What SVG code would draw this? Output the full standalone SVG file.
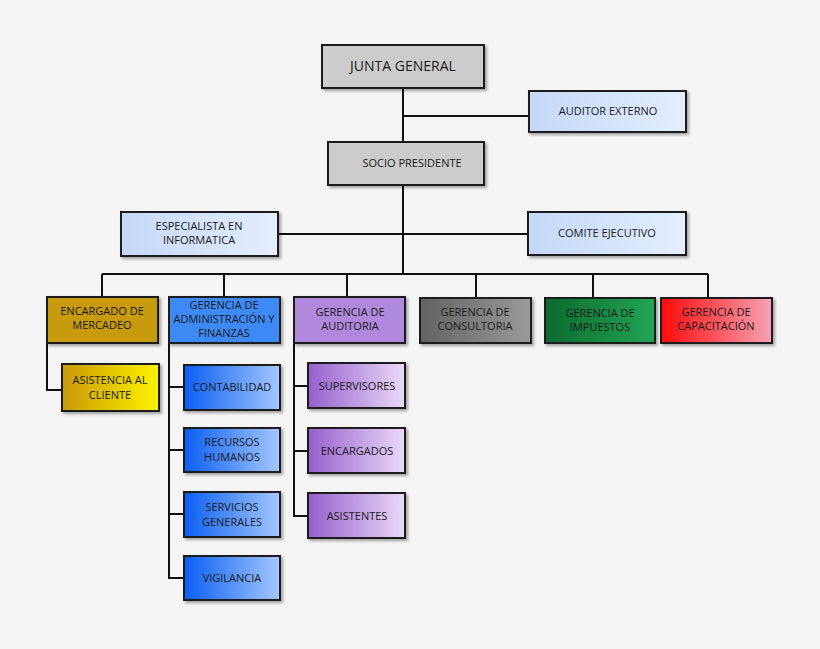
<svg xmlns="http://www.w3.org/2000/svg" width="820" height="649" viewBox="0 0 820 649">
<defs>
<filter id="sh" x="-10%" y="-10%" width="130%" height="140%"><feDropShadow dx="2" dy="2" stdDeviation="1.5" flood-color="#000" flood-opacity="0.35"/></filter>
<linearGradient id="gLb" x1="0" y1="0" x2="1" y2="0"><stop offset="0" stop-color="#c4d8f6"/><stop offset="1" stop-color="#e4eeff"/></linearGradient>
<linearGradient id="gGold" x1="0" y1="0" x2="1" y2="0"><stop offset="0" stop-color="#c89a08"/><stop offset="1" stop-color="#fff200"/></linearGradient>
<linearGradient id="gBlue" x1="0" y1="0" x2="1" y2="0"><stop offset="0" stop-color="#0a5ef2"/><stop offset="1" stop-color="#a4c8ff"/></linearGradient>
<linearGradient id="gPur" x1="0" y1="0" x2="1" y2="0"><stop offset="0" stop-color="#9560cc"/><stop offset="1" stop-color="#ead9f8"/></linearGradient>
<linearGradient id="gGray" x1="0" y1="0" x2="1" y2="0"><stop offset="0" stop-color="#626262"/><stop offset="1" stop-color="#9a9a9a"/></linearGradient>
<linearGradient id="gGreen" x1="0" y1="0" x2="1" y2="0"><stop offset="0" stop-color="#0b6a2e"/><stop offset="1" stop-color="#22a556"/></linearGradient>
<linearGradient id="gRed" x1="0" y1="0" x2="1" y2="0"><stop offset="0" stop-color="#ff0a0a"/><stop offset="1" stop-color="#f6a3b3"/></linearGradient>
</defs>
<style>
rect{stroke:#1a1a1a;stroke-width:2;filter:url(#sh)}
text{font-family:"Open Sans","DejaVu Sans",sans-serif;font-size:11px;fill:#1a1a1a;text-anchor:middle}
.c path{stroke:#111;stroke-width:2;fill:none}
</style>
<rect x="0" y="0" width="820" height="649" fill="#f5f5f5" style="stroke:none;filter:none"/>
<g class="c">
<path d="M403 88V273M403 116H529M278 234H528M102 274H708M102 274V297M224 274V297M347 274V297M476 274V297M593 274V297M708 274V297"/>
<path d="M47 343V390H62M169 343V578H184M169 387H184M169 450H184M169 514H184M294 343V516H308M294 386H308M294 451H308"/>
</g>
<g id="junta"><rect x="322" y="45" width="162" height="43" fill="#cccccc"/><text x="403" y="71" style="font-size:14px">JUNTA GENERAL</text></g>
<g id="auditor"><rect x="529" y="91" width="157" height="41" fill="url(#gLb)"/><text x="608" y="115">AUDITOR EXTERNO</text></g>
<g id="socio"><rect x="328" y="142" width="156" height="43" fill="#cccccc"/><text x="412" y="167">SOCIO PRESIDENTE</text></g>
<g id="especialista"><rect x="121" y="212" width="157" height="44" fill="url(#gLb)"/><text x="199" y="230">ESPECIALISTA EN</text><text x="199" y="244">INFORMATICA</text></g>
<g id="comite"><rect x="528" y="212" width="158" height="43" fill="url(#gLb)"/><text x="607" y="237">COMITE EJECUTIVO</text></g>
<g id="encargado"><rect x="47" y="297" width="111" height="46" fill="#c89a08"/><text x="102" y="315">ENCARGADO DE</text><text x="102" y="329">MERCADEO</text></g>
<g id="admin"><rect x="169" y="297" width="111" height="46" fill="#3d8af6"/><text x="224" y="309">GERENCIA DE</text><text x="224" y="323">ADMINISTRACIÓN Y</text><text x="224" y="337">FINANZAS</text></g>
<g id="auditoria"><rect x="294" y="297" width="111" height="46" fill="#b088dc"/><text x="350" y="316">GERENCIA DE</text><text x="350" y="330">AUDITORIA</text></g>
<g id="consultoria"><rect x="420" y="298" width="111" height="45" fill="url(#gGray)"/><text x="475" y="316">GERENCIA DE</text><text x="475" y="330">CONSULTORIA</text></g>
<g id="impuestos"><rect x="545" y="298" width="110" height="45" fill="url(#gGreen)"/><text x="600" y="317">GERENCIA DE</text><text x="600" y="331">IMPUESTOS</text></g>
<g id="capacitacion"><rect x="661" y="298" width="111" height="45" fill="url(#gRed)"/><text x="716" y="316">GERENCIA DE</text><text x="716" y="330">CAPACITACIÓN</text></g>
<g id="asistencia"><rect x="62" y="364" width="97" height="47" fill="url(#gGold)"/><text x="110" y="384">ASISTENCIA AL</text><text x="110" y="399">CLIENTE</text></g>
<g id="contabilidad"><rect x="184" y="365" width="96" height="45" fill="url(#gBlue)"/><text x="232" y="391">CONTABILIDAD</text></g>
<g id="recursos"><rect x="184" y="428" width="96" height="44" fill="url(#gBlue)"/><text x="232" y="446">RECURSOS</text><text x="232" y="461">HUMANOS</text></g>
<g id="servicios"><rect x="184" y="492" width="96" height="45" fill="url(#gBlue)"/><text x="232" y="511">SERVICIOS</text><text x="232" y="526">GENERALES</text></g>
<g id="vigilancia"><rect x="184" y="556" width="96" height="44" fill="url(#gBlue)"/><text x="232" y="582">VIGILANCIA</text></g>
<g id="supervisores"><rect x="308" y="363" width="97" height="45" fill="url(#gPur)"/><text x="357" y="390">SUPERVISORES</text></g>
<g id="encargados"><rect x="308" y="428" width="97" height="45" fill="url(#gPur)"/><text x="357" y="455">ENCARGADOS</text></g>
<g id="asistentes"><rect x="308" y="493" width="97" height="45" fill="url(#gPur)"/><text x="357" y="520">ASISTENTES</text></g>
</svg>
